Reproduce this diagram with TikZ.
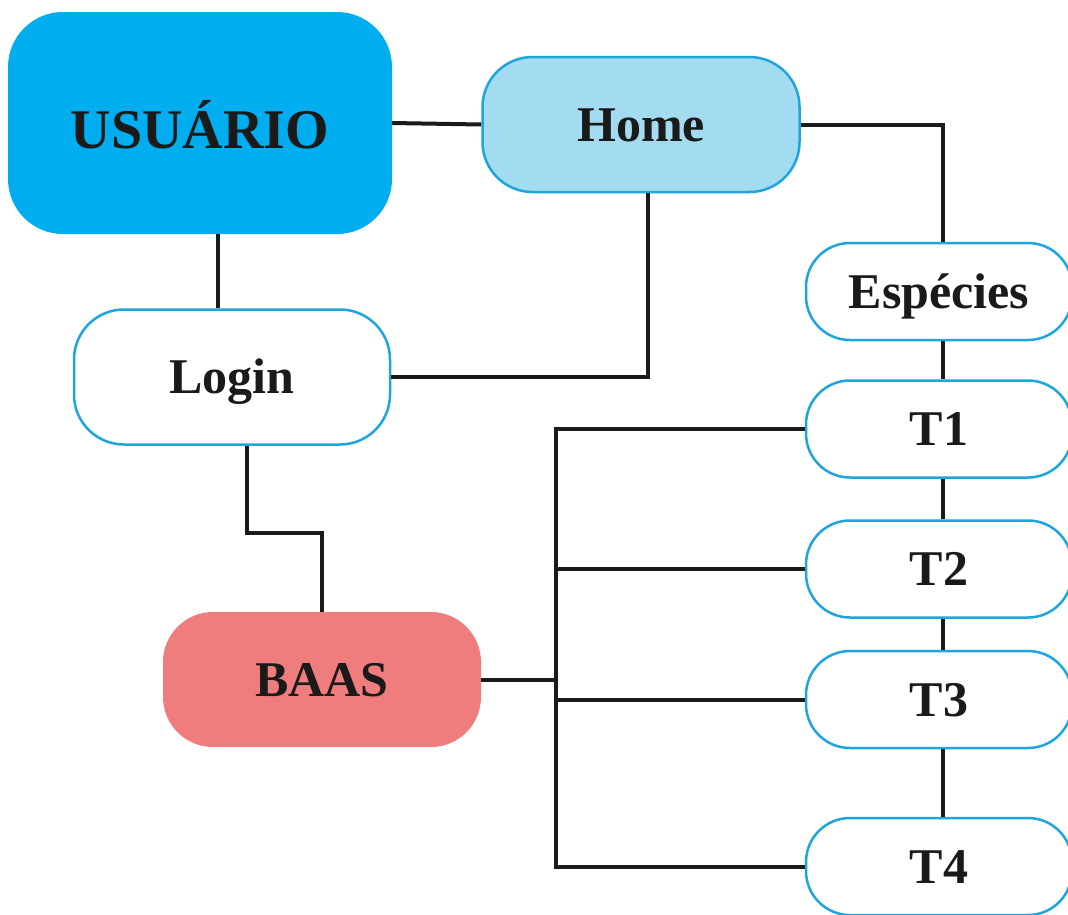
\documentclass[tikz,border=0pt]{standalone}
\usepackage{fontspec}
\setmainfont{Liberation Serif}
\definecolor{cyanfill}{HTML}{00AEEF}
\definecolor{homefill}{HTML}{A3DCF0}
\definecolor{boxline}{HTML}{1FA5DD}
\definecolor{baasfill}{HTML}{F07D7E}
\definecolor{linecol}{HTML}{1A1A1A}
\tikzset{
  base/.style={rectangle, inner sep=0pt, text height=33pt, text depth=0pt, font=\bfseries\fontsize{50}{60}\selectfont, text=linecol},
  ubox/.style={base, fill=cyanfill, rounded corners=55pt, minimum width=384pt, minimum height=222pt, text height=51pt, font=\bfseries\fontsize{56}{66}\selectfont},
  hbox/.style={base, fill=homefill, draw=boxline, line width=2.5pt, rounded corners=50pt, minimum width=317pt, minimum height=135pt},
  wbox/.style={base, fill=white, draw=boxline, line width=2.5pt, rounded corners=50pt, minimum width=316pt, minimum height=135pt},
  bbox/.style={base, fill=baasfill, rounded corners=50pt, minimum width=318pt, minimum height=135pt},
  tbox/.style={base, fill=white, draw=boxline, line width=2.5pt, rounded corners=44pt, minimum width=266pt, minimum height=97pt},
  conn/.style={draw=linecol, line width=4pt}
}
\begin{document}
\begin{tikzpicture}[x=1pt,y=-1pt]
\useasboundingbox (0,0) rectangle (1068,914);
\fill[white] (0,0) rectangle (1068,914);
\begin{scope}
\clip (0,0) rectangle (1068,914);
\node[ubox] (usr) at (200,123) {USUÁRIO};
\node[hbox] (home) at (641,124.5) {Home};
\node[wbox] (login) at (232,377) {Login};
\node[bbox] (baas) at (322,679.5) {BAAS};
\node[tbox] (esp) at (939,291.5) {Espécies};
\node[tbox] (t1) at (939,429) {T1};
\node[tbox] (t2) at (939,569) {T2};
\node[tbox] (t3) at (939,699.5) {T3};
\node[tbox] (t4) at (939,866.5) {T4};
\coordinate (bus) at (556,679.5);

\draw[conn] (usr.east) -- (home.west);
\draw[conn] (home.east) -| ([xshift=4pt]esp.north);
\draw[conn] ([xshift=7pt]home.south) |- (login.east);
\draw[conn] ([xshift=18pt]usr.south) -- ([xshift=-14pt]login.north);
\draw[conn] ([xshift=15pt]login.south) -- ++(0,87) -| (baas.north);
\draw[conn] (baas.east) -- (bus);
\draw[conn] (t1.west) -| (bus);
\draw[conn] (t4.west) -| (bus);
\draw[conn] (t2.west) -- (t2.west -| bus);
\draw[conn] (t3.west) -- (t3.west -| bus);
\draw[conn] ([xshift=4pt]esp.south) -- ([xshift=4pt]t1.north);
\draw[conn] ([xshift=4pt]t1.south) -- ([xshift=4pt]t2.north);
\draw[conn] ([xshift=4pt]t2.south) -- ([xshift=4pt]t3.north);
\draw[conn] ([xshift=4pt]t3.south) -- ([xshift=4pt]t4.north);
\end{scope}
\end{tikzpicture}
\end{document}
